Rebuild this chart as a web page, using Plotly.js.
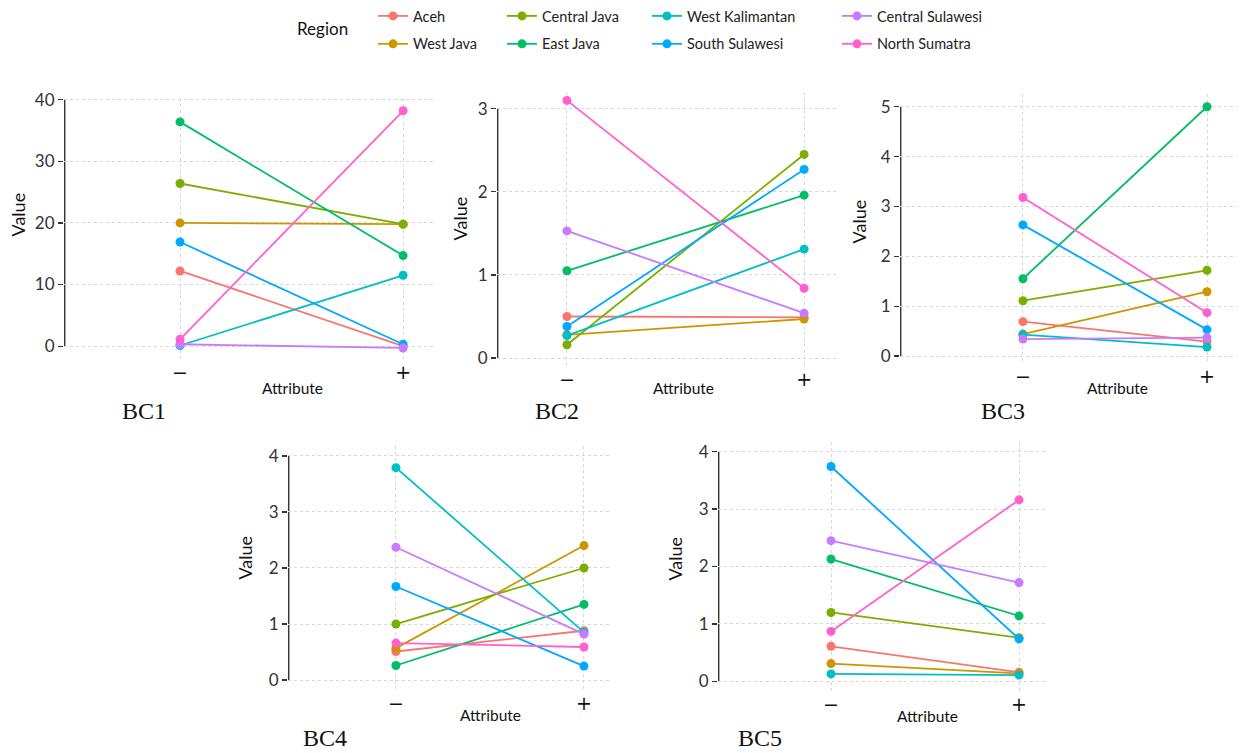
<!DOCTYPE html>
<html>
<head>
<meta charset="utf-8">
<script src="https://cdn.plot.ly/plotly-3.0.1.min.js"></script>
<style>html,body{margin:0;padding:0;background:#fff;}#chart{width:1241px;height:753px;}</style>
</head>
<body>
<div id="chart"></div>
<script>
// ---------------- data ----------------
const regions = ["Aceh", "West Java", "Central Java", "East Java", "West Kalimantan", "South Sulawesi", "Central Sulawesi", "North Sumatra"];
const regionColors = ["#F8766D", "#CD9600", "#7CAE00", "#00BE67", "#00BFC4", "#00A9FF", "#C77CFF", "#FF61CC"];
const attributeLevels = ["\u2212", "+"];
const panelNames = ["BC1", "BC2", "BC3", "BC4", "BC5"];
const yTicks1 = [0, 10, 20, 30, 40];
const yTicks2 = [0, 1, 2, 3];
const yTicks3 = [0, 1, 2, 3, 4, 5];
const yTicks4 = [0, 1, 2, 3, 4];
const yTicks5 = [0, 1, 2, 3, 4];

// values in region order, for attribute "−" and "+"
const bc1Minus = [12.2, 20.0, 26.4, 36.4, 0.1, 16.9, 0.3, 1.1];
const bc1Plus  = [0.0, 19.8, 19.8, 14.7, 11.5, 0.3, -0.3, 38.2];
const bc2Minus = [0.50, 0.28, 0.16, 1.05, 0.27, 0.38, 1.53, 3.10];
const bc2Plus  = [0.49, 0.47, 2.45, 1.96, 1.31, 2.27, 0.54, 0.84];
const bc3Minus = [0.69, 0.44, 1.11, 1.55, 0.43, 2.63, 0.34, 3.18];
const bc3Plus  = [0.29, 1.29, 1.72, 5.00, 0.18, 0.53, 0.37, 0.87];
const bc4Minus = [0.51, 0.57, 1.00, 0.26, 3.79, 1.67, 2.37, 0.66];
const bc4Plus  = [0.88, 2.40, 2.00, 1.35, 0.85, 0.25, 0.82, 0.59];
const bc5Minus = [0.61, 0.31, 1.20, 2.13, 0.13, 3.74, 2.45, 0.87];
const bc5Plus  = [0.16, 0.14, 0.76, 1.14, 0.11, 0.74, 1.72, 3.16];

// ---------------- layout helpers ----------------
const W = 1241, H = 753;
const px = v => v / W;
const py = v => 1 - v / H;

const panels = [
  {minus: bc1Minus, plus: bc1Plus, ticks: yTicks1, xd: [64, 435],  yd: [96, 358],  xr: [-0.52, 1.143], yr: [-2.1, 40.32],
   value: [18, 213], attr: [292, 387], label: [144, 410]},
  {minus: bc2Minus, plus: bc2Plus, ticks: yTicks2, xd: [497, 838], yd: [90, 365],  xr: [-0.295, 1.143], yr: [-0.096, 3.204],
   value: [460, 217], attr: [683, 387], label: [557, 410]},
  {minus: bc3Minus, plus: bc3Plus, ticks: yTicks3, xd: [900, 1237], yd: [92, 362], xr: [-0.668, 1.163], yr: [-0.14, 5.26],
   value: [859, 220], attr: [1117, 387], label: [1003, 410]},
  {minus: bc4Minus, plus: bc4Plus, ticks: yTicks4, xd: [288, 612], yd: [445, 690], xr: [-0.574, 1.149], yr: [-0.18, 4.18],
   value: [245, 557], attr: [490, 715], label: [325, 738]},
  {minus: bc5Minus, plus: bc5Plus, ticks: yTicks5, xd: [718, 1048], yd: [441, 691], xr: [-0.601, 1.154], yr: [-0.17, 4.17],
   value: [675, 558], attr: [927, 716], label: [760, 738]}
];

const sans = "Lato, 'Open Sans', sans-serif";
const traces = [];
const layout = {
  width: W, height: H,
  margin: {l: 0, r: 0, t: 0, b: 0},
  paper_bgcolor: "#ffffff", plot_bgcolor: "#ffffff",
  font: {family: sans, color: "#333333", size: 15},
  showlegend: true,
  annotations: [], shapes: []
};

// legends: one per entry, column-major like the reference
const legendTextX = [413, 542, 687, 877];
const legendRowY = [14, 42];
regions.forEach((r, i) => {
  const col = Math.floor(i / 2), row = i % 2;
  const key = i === 0 ? "legend" : "legend" + (i + 1);
  layout[key] = {
    x: px(legendTextX[col] - 40), y: py(legendRowY[row]),
    xanchor: "left", yanchor: "middle", orientation: "v",
    bgcolor: "rgba(0,0,0,0)", borderwidth: 0,
    font: {family: sans, size: 14.5, color: "#222222"}
  };
});

panels.forEach((p, k) => {
  const n = k === 0 ? "" : String(k + 1);
  const xa = "x" + n, ya = "y" + n;
  // capped axis line from first to last break (drawn first, below the data)
  layout.shapes.push({
    type: "line", xref: xa, yref: ya, layer: "below",
    x0: p.xr[0], x1: p.xr[0], y0: p.ticks[0], y1: p.ticks[p.ticks.length - 1],
    line: {color: "#333333", width: 2.8}
  });
  regions.forEach((r, i) => {
    traces.push({
      type: "scatter", mode: "lines+markers",
      x: attributeLevels, y: [p.minus[i], p.plus[i]],
      xaxis: xa, yaxis: ya, name: r,
      line: {color: regionColors[i], width: 1.8},
      marker: {color: regionColors[i], size: 9},
      showlegend: k === 0,
      legend: i === 0 ? "legend" : "legend" + (i + 1),
      hoverinfo: "x+y+name"
    });
  });
  layout["xaxis" + n] = {
    domain: [px(p.xd[0]), px(p.xd[1])], anchor: ya,
    type: "category", categoryorder: "array", categoryarray: attributeLevels,
    range: p.xr, showline: false, zeroline: false, ticks: "",
    showgrid: true, gridcolor: "#d8d8d8", griddash: "dot", gridwidth: 1,
    tickfont: {family: "'DejaVu Sans', sans-serif", size: 19, color: "#111111"}, fixedrange: true
  };
  layout["yaxis" + n] = {
    domain: [py(p.yd[1]), py(p.yd[0])], anchor: xa,
    range: p.yr, tickvals: p.ticks, ticktext: p.ticks.map(String),
    showline: false, zeroline: false, ticks: "outside", ticklen: 5, tickcolor: "#333333", tickwidth: 1.2,
    showgrid: true, gridcolor: "#d8d8d8", griddash: "dot", gridwidth: 1,
    tickfont: {family: sans, size: 17, color: "#333333"}, fixedrange: true
  };
  layout.annotations.push({
    text: "Value", textangle: -90, xref: "paper", yref: "paper",
    x: px(p.value[0]), y: py(p.value[1]), xanchor: "center", yanchor: "middle",
    showarrow: false, font: {family: sans, size: 18, color: "#111111"}
  });
  layout.annotations.push({
    text: "Attribute", xref: "paper", yref: "paper",
    x: px(p.attr[0]), y: py(p.attr[1]), xanchor: "center", yanchor: "middle",
    showarrow: false, font: {family: sans, size: 15.5, color: "#111111"}
  });
  layout.annotations.push({
    text: panelNames[k], xref: "paper", yref: "paper",
    x: px(p.label[0]), y: py(p.label[1]), xanchor: "center", yanchor: "middle",
    showarrow: false, font: {family: "'Liberation Serif', 'DejaVu Serif', serif", size: 24, color: "#111111"}
  });
});

layout.annotations.push({
  text: "Region", xref: "paper", yref: "paper", x: px(322), y: py(27),
  xanchor: "center", yanchor: "middle", showarrow: false,
  font: {family: sans, size: 17, color: "#111111"}
});

Plotly.newPlot("chart", traces, layout, {displayModeBar: false, staticPlot: true});
</script>
</body>
</html>
